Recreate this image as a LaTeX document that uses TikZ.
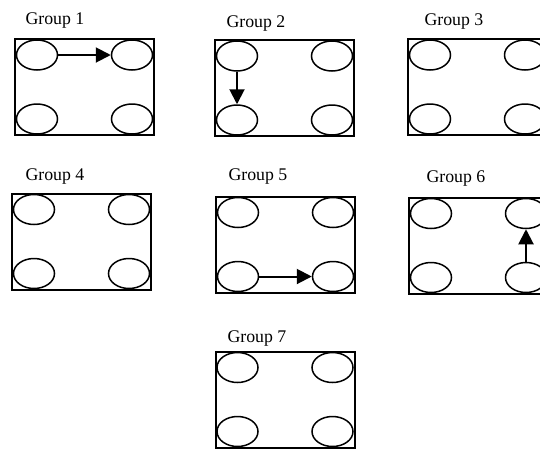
\documentclass[tikz,border=0pt]{standalone}
\usepackage{fontspec}
\setmainfont{Liberation Serif}
\usetikzlibrary{arrows.meta,shapes.geometric}
\tikzset{>=Stealth,every node/.style={font=\fontsize{17.8}{20}\selectfont},grp/.style={draw,line width=2pt,minimum width=139pt,minimum height=96pt,inner sep=0pt},seat/.style={draw,ellipse,line width=1.5pt,minimum width=41pt,minimum height=30pt,inner sep=0pt},move/.style={line width=2pt,-{Triangle[length=15pt,width=15pt]}}}

\begin{document}
\begin{tikzpicture}[x=1pt,y=-1pt]
\useasboundingbox (0,0) rectangle (540,448);\clip (0,0) rectangle (540,448);
\foreach \n/\x/\y/\lx/\ly in {1/84.5/87/22/24,2/284.5/88/223/27,3/477.5/87/421/25,4/81.5/241.5/22/180,5/285.5/244.5/225/180,6/478.5/245.5/423/182,7/285/399.5/224/342}{
\node[grp] (g\n) at (\x,\y) {};\node[anchor=base west] (l\n) at (\lx,\ly) {Group \n};
\node[seat] (g\n-a) at ([shift={(-47.5,-32)}]g\n.center) {};\node[seat] (g\n-b) at ([shift={(47.5,-32)}]g\n.center) {};
\node[seat] (g\n-c) at ([shift={(-47.5,32)}]g\n.center) {};\node[seat] (g\n-d) at ([shift={(47.5,32)}]g\n.center) {};}
\draw[move] (g1-a)--(g1-b);\draw[move] (g2-a)--(g2-c);\draw[move] (g5-c)--(g5-d);\draw[move] (g6-d)--(g6-b);
\end{tikzpicture}
\end{document}
